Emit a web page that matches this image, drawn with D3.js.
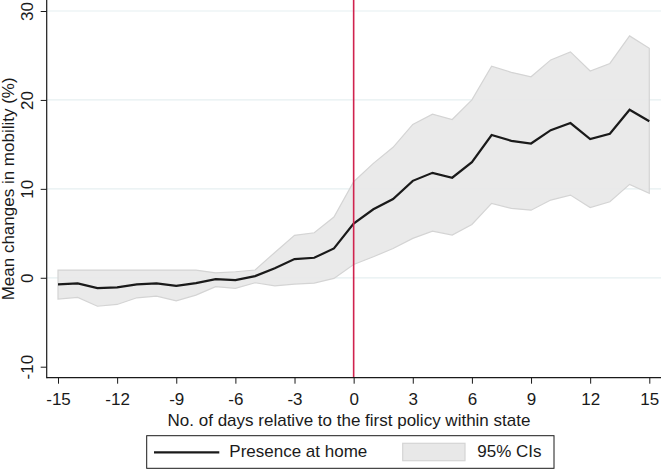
<!DOCTYPE html>
<html>
<head>
<meta charset="utf-8">
<script src="https://cdn.jsdelivr.net/npm/d3@7"></script>
<style>
  body { margin: 0; background: #fff; }
  svg text { font-family: "Liberation Sans", Arial, sans-serif; fill: #1a1a1a; }
</style>
</head>
<body>
<div id="chart"></div>
<script>
// days relative to first policy
const days = d3.range(-15, 16);
// mean change in presence at home (%)
const meanVals = [-0.75, -0.63, -1.16, -1.08, -0.75, -0.63, -0.9, -0.6, -0.15, -0.26, 0.19, 1.06, 2.1, 2.25, 3.3,
                  6.1, 7.7, 8.85, 10.9, 11.8, 11.25, 13.0, 16.05, 15.4, 15.1, 16.6, 17.4, 15.6, 16.2, 18.9, 17.6];
// 95% CI bounds
const upperVals = [0.87, 0.87, 0.87, 0.87, 0.87, 0.87, 0.87, 0.87, 0.56, 0.68, 0.87, 2.85, 4.77, 5.06, 6.83,
                   10.8, 12.87, 14.67, 17.25, 18.4, 17.8, 20.0, 23.8, 23.1, 22.6, 24.5, 25.4, 23.25, 24.1, 27.2, 25.8];
const lowerVals = [-2.4, -2.2, -3.2, -3.0, -2.25, -2.06, -2.6, -1.95, -1.0, -1.2, -0.56, -0.9, -0.71, -0.6, -0.07,
                   1.5, 2.36, 3.3, 4.43, 5.25, 4.8, 6.0, 8.37, 7.8, 7.6, 8.74, 9.3, 7.9, 8.55, 10.5, 9.5];
const xTicks = d3.range(-15, 16, 3);
const yTicks = [-10, 0, 10, 20, 30];
const gridTicks = [0, 10, 20, 30];

const W = 661, H = 469;
const FS = 17;
const svg = d3.select("#chart").append("svg")
    .attr("width", W)
    .attr("height", H);

// scales
const x = d3.scaleLinear().domain([-15, 15]).range([58, 649.3]);
const y = d3.scaleLinear().domain([-10, 30]).range([366.7, 11]);
const axisX = 46.7, axisY = 377.7;

const data = days.map((d, i) => ({day: d, mean: meanVals[i], lo: lowerVals[i], hi: upperVals[i]}));

// gridlines
svg.append("g").selectAll("line")
    .data(gridTicks)
    .join("line")
    .attr("x1", axisX).attr("x2", W)
    .attr("y1", d => y(d)).attr("y2", d => y(d))
    .attr("stroke", "#e6eff1")
    .attr("stroke-width", 1.2);

// CI band
const area = d3.area()
    .x(d => x(d.day))
    .y0(d => y(d.lo))
    .y1(d => y(d.hi));
svg.append("path")
    .datum(data)
    .attr("d", area)
    .attr("fill", "#e8e8e8")
    .attr("fill-opacity", 0.92)
    .attr("stroke", "#d4d4d4")
    .attr("stroke-width", 1.2);

// mean line
const line = d3.line()
    .x(d => x(d.day))
    .y(d => y(d.mean));
svg.append("path")
    .datum(data)
    .attr("d", line)
    .attr("fill", "none")
    .attr("stroke", "#1a1a1a")
    .attr("stroke-width", 2.2);

// policy day line
svg.append("line")
    .attr("x1", x(0)).attr("x2", x(0))
    .attr("y1", 0).attr("y2", axisY)
    .attr("stroke", "#d0234e")
    .attr("stroke-width", 1.6);

// y axis
const yAxis = d3.axisLeft(y).tickValues(yTicks).tickSize(6).tickFormat(d => String(d));
const gy = svg.append("g")
    .attr("transform", `translate(${axisX},0)`)
    .call(yAxis);
gy.select(".domain").remove();
gy.selectAll(".tick line").attr("stroke", "#1a1a1a");
gy.selectAll(".tick text")
    .attr("font-size", FS)
    .attr("x", null).attr("dy", null)
    .attr("text-anchor", "middle")
    .attr("transform", "translate(-14,0) rotate(-90)");
svg.append("line")
    .attr("x1", axisX).attr("x2", axisX)
    .attr("y1", 0).attr("y2", axisY + 0.6)
    .attr("stroke", "#1a1a1a").attr("stroke-width", 1.2);

// x axis
const xAxis = d3.axisBottom(x).tickValues(xTicks).tickSize(6).tickFormat(d => String(d));
const gx = svg.append("g")
    .attr("transform", `translate(0,${axisY})`)
    .call(xAxis);
gx.select(".domain").remove();
gx.selectAll(".tick line").attr("stroke", "#1a1a1a");
gx.selectAll(".tick text")
    .attr("font-size", FS)
    .attr("dy", null)
    .attr("y", 27.5);
svg.append("line")
    .attr("x1", axisX).attr("x2", W)
    .attr("y1", axisY).attr("y2", axisY)
    .attr("stroke", "#1a1a1a").attr("stroke-width", 1.2);

// axis titles
svg.append("text")
    .attr("x", 349)
    .attr("y", 425.5)
    .attr("text-anchor", "middle")
    .attr("font-size", FS)
    .text("No. of days relative to the first policy within state");

svg.append("text")
    .attr("transform", `translate(14,${y(10)}) rotate(-90)`)
    .attr("text-anchor", "middle")
    .attr("font-size", FS)
    .text("Mean changes in mobility (%)");

// legend
const lg = svg.append("g");
lg.append("rect")
    .attr("x", 146.7).attr("y", 435.7)
    .attr("width", 407.3).attr("height", 32.6)
    .attr("fill", "#fff")
    .attr("stroke", "#1a1a1a")
    .attr("stroke-width", 1);
lg.append("line")
    .attr("x1", 154).attr("x2", 219.3)
    .attr("y1", 452.3).attr("y2", 452.3)
    .attr("stroke", "#1a1a1a").attr("stroke-width", 2.2);
lg.append("text")
    .attr("x", 229.3).attr("y", 457)
    .attr("font-size", FS)
    .text("Presence at home");
lg.append("rect")
    .attr("x", 402.7).attr("y", 443.3)
    .attr("width", 62.3).attr("height", 17.4)
    .attr("fill", "#e8e8e8")
    .attr("stroke", "#d4d4d4")
    .attr("stroke-width", 1.2);
lg.append("text")
    .attr("x", 477.3).attr("y", 457)
    .attr("font-size", FS)
    .text("95% CIs");
</script>
</body>
</html>
